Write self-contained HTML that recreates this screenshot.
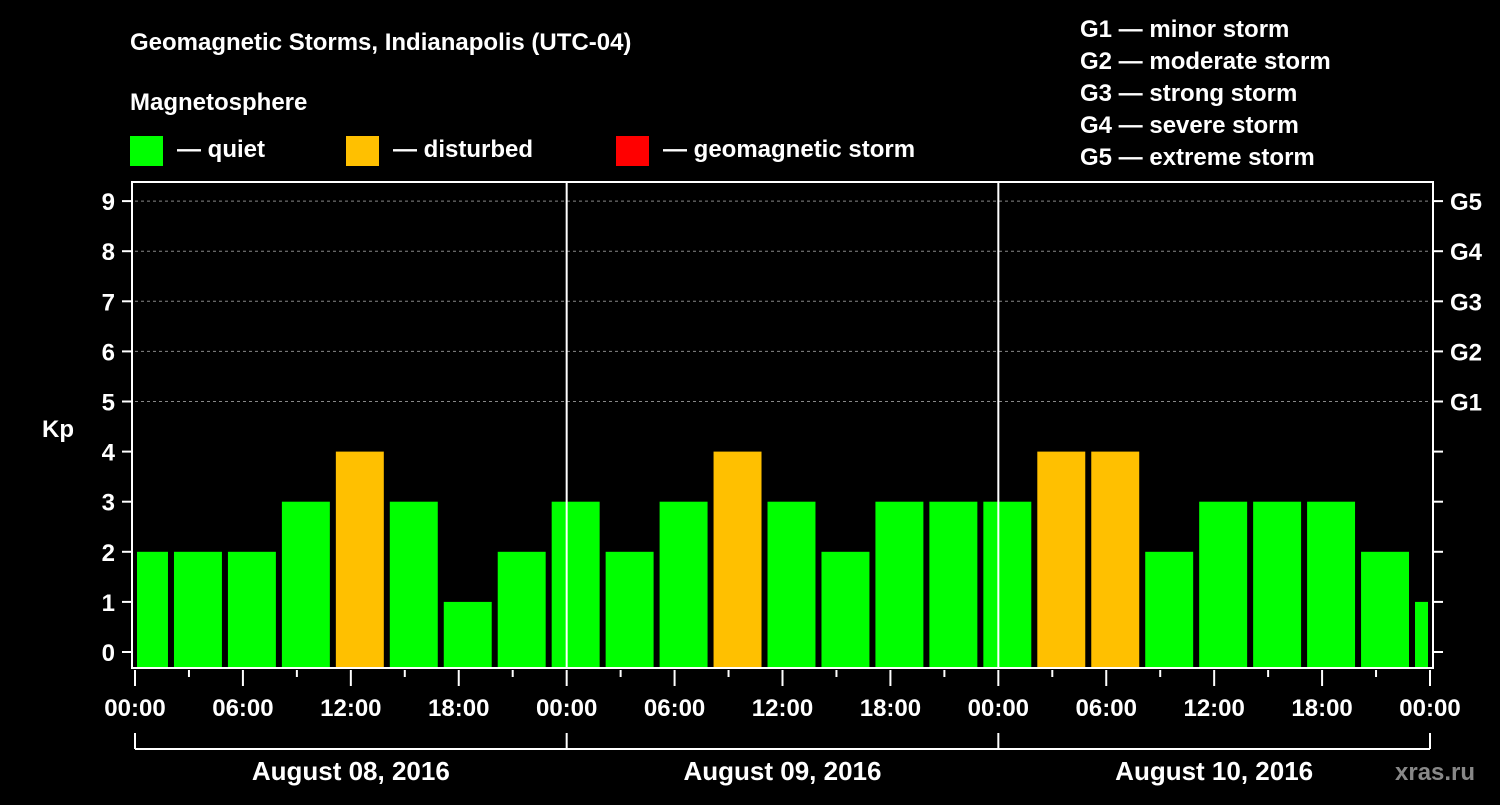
<!DOCTYPE html>
<html><head><meta charset="utf-8"><style>
body{margin:0;background:#000;width:1500px;height:800px;overflow:hidden}
svg text{font-family:"Liberation Sans",sans-serif;font-weight:bold;fill:#fff}
</style></head><body>
<svg id="chart" width="1500" height="800" xmlns="http://www.w3.org/2000/svg">
<text x="130" y="50" font-size="24">Geomagnetic Storms, Indianapolis (UTC-04)</text>
<text x="130" y="110" font-size="24">Magnetosphere</text>
<rect x="130" y="136" width="33" height="30" fill="#00ff00"/>
<text x="177" y="157" font-size="24">— quiet</text>
<rect x="346" y="136" width="33" height="30" fill="#ffc000"/>
<text x="393" y="157" font-size="24">— disturbed</text>
<rect x="616" y="136" width="33" height="30" fill="#ff0000"/>
<text x="663" y="157" font-size="24">— geomagnetic storm</text>
<g font-size="24">
<text x="1080" y="37">G1 — minor storm</text>
<text x="1080" y="69">G2 — moderate storm</text>
<text x="1080" y="101">G3 — strong storm</text>
<text x="1080" y="133">G4 — severe storm</text>
<text x="1080" y="165">G5 — extreme storm</text>
</g>
<g id="plot"></g>
<text x="1395" y="780" font-size="24" fill="#888" style="fill:#888">xras.ru</text>
</svg>
<script>
const kpValues=[2,2,2,3,4,3,1,2,3,2,3,4,3,2,3,3,3,4,4,2,3,3,3,2,1];
const firstStartHour=-1;
const yTicks=[0,1,2,3,4,5,6,7,8,9];
const gLabels=["G1","G2","G3","G4","G5"];
const xTickLabels=["00:00","06:00","12:00","18:00","00:00","06:00","12:00","18:00","00:00","06:00","12:00","18:00","00:00"];
const dayLabels=["August 08, 2016","August 09, 2016","August 10, 2016"];
const L=135,R=1430,T=182,B=668,totalH=72;
const x=h=>L+(R-L)*h/totalH;
const y=k=>652-50.1*k;
const ns="http://www.w3.org/2000/svg";
const g=document.getElementById('plot');
function mk(t,a){const e=document.createElementNS(ns,t);for(const k in a)e.setAttribute(k,a[k]);g.appendChild(e);return e;}
// grid
[5,6,7,8,9].forEach(k=>{const e=mk('line',{x1:L,x2:R,y1:y(k),y2:y(k),stroke:'#888','stroke-dasharray':'3,3','stroke-width':1});

});
// bars
kpValues.forEach((v,i)=>{const s=firstStartHour+3*i;let x0=x(s)+3,x1=x(s+3)-3;x0=Math.max(x0,L+2);x1=Math.min(x1,R-2);
const c=v>=5?'#ff0000':v>=4?'#ffc000':'#00ff00';
const e=mk('rect',{x:x0,y:y(v),width:x1-x0,height:B-y(v),fill:c});

});
// day separators
[24,48].forEach(h=>{const e=mk('line',{x1:x(h),x2:x(h),y1:T,y2:B,stroke:'#fff','stroke-width':2});

});
// frame
const fr=mk('rect',{x:L-3,y:T,width:R-L+6,height:B-T,fill:'none',stroke:'#fff','stroke-width':2});


// y ticks
yTicks.forEach(k=>{mk('line',{x1:L-13,x2:L-3,y1:y(k),y2:y(k),stroke:'#fff','stroke-width':2});
mk('line',{x1:R+3,x2:R+13,y1:y(k),y2:y(k),stroke:'#fff','stroke-width':2});
const t=mk('text',{x:L-20,y:y(k)+9,'font-size':24,'text-anchor':'end'});t.textContent=k;

});
gLabels.forEach((s,i)=>{const t=mk('text',{x:R+20,y:y(5+i)+9,'font-size':24});t.textContent=s;

});
const yl=mk('text',{x:42,y:437,'font-size':24});yl.textContent='Kp';


// x ticks
for(let h=0;h<=totalH;h+=3){mk('line',{x1:x(h),x2:x(h),y1:B+2,y2:h%6==0?B+18:B+9,stroke:'#fff','stroke-width':2});}
xTickLabels.forEach((s,i)=>{const t=mk('text',{x:x(i*6),y:716,'font-size':24,'text-anchor':'middle'});t.textContent=s;

});
// day bracket
mk('line',{x1:L,x2:R,y1:749,y2:749,stroke:'#fff','stroke-width':2});
[0,24,48,72].forEach(h=>mk('line',{x1:x(h),x2:x(h),y1:733,y2:749,stroke:'#fff','stroke-width':2}));
dayLabels.forEach((s,i)=>{const t=mk('text',{x:x(i*24+12),y:780,'font-size':26,'text-anchor':'middle'});t.textContent=s;

});
</script>
</body></html>
